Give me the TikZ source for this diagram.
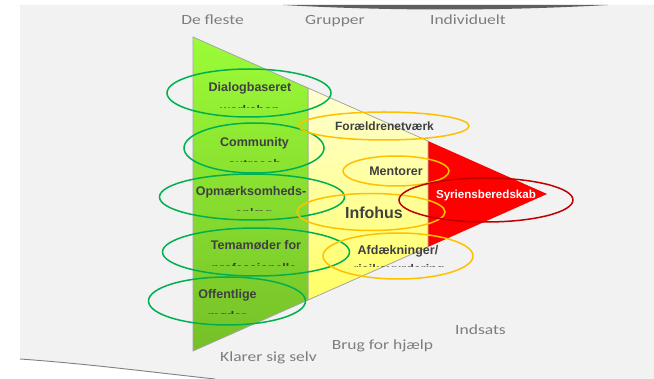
\documentclass[tikz,border=0pt]{standalone}
\usepackage{fontspec}
\setmainfont{Liberation Sans}
\newfontfamily\hdrfont[FakeStretch=1.25]{Carlito}
\usetikzlibrary{shapes.geometric}
\definecolor{bggray}{RGB}{242,242,242}
\definecolor{bandgray}{RGB}{95,95,95}
\definecolor{linegray}{RGB}{128,128,128}
\definecolor{edgegray}{RGB}{165,165,165}
\definecolor{greentop}{RGB}{155,252,55}
\definecolor{greenbot}{RGB}{117,192,40}
\definecolor{yeltop}{RGB}{255,255,210}
\definecolor{yelbot}{RGB}{255,255,100}
\definecolor{redfill}{RGB}{255,0,0}
\definecolor{ellgreen}{RGB}{0,176,80}
\definecolor{ellyellow}{RGB}{255,192,0}
\definecolor{ellred}{RGB}{192,0,0}
\definecolor{labeltxt}{RGB}{64,64,64}
\definecolor{hdrtxt}{RGB}{125,125,125}
\begin{document}
\begin{tikzpicture}[x=1pt,y=-1pt,
  ring/.style={ellipse, draw, line width=1.5pt, inner sep=0pt, outer sep=0pt},
  gring/.style={ring, draw=ellgreen},
  yring/.style={ring, draw=ellyellow},
  rring/.style={ring, draw=ellred},
  lbl/.style={anchor=base, inner sep=0pt, text=labeltxt, font=\fontsize{12.5}{15}\selectfont\bfseries},
  hdr/.style={anchor=base, inner sep=0pt, text=hdrtxt, font=\hdrfont\fontsize{14}{16}\selectfont},
]
\useasboundingbox (0,0) rectangle (654,379);
\fill[white] (0,0) rectangle (654,379);
\fill[bggray] (20,5) -- (654,5) -- (654,379) -- (215,379) .. controls (150,372) and (90,364) .. (20,359) -- cycle;
\draw[linegray, line width=0.9pt] (20,359) .. controls (90,364) and (150,372) .. (215,379);
\fill[bandgray] (283,5) -- (608,5) .. controls (500,11) and (390,11) .. (283,5) -- cycle;

% funnel
\fill[redfill] (428,141) -- (547,194) -- (428,247) -- cycle;
\path[draw=edgegray, line width=0.8pt, top color=yeltop, bottom color=yelbot] (308,88) -- (428,141) -- (428,247) -- (308,300) -- cycle;
\path[draw=edgegray, line width=0.8pt, top color=greentop, bottom color=greenbot] (193,37) -- (308,88) -- (308,300) -- (193,351) -- cycle;

% ellipses
\node[gring, minimum width=164pt, minimum height=48pt] (eDialog) at (249,93) {};
\node[gring, minimum width=140pt, minimum height=50pt] (eCommunity) at (254,148) {};
\node[gring, minimum width=185pt, minimum height=46pt] (eOpm) at (252,197) {};
\node[gring, minimum width=187pt, minimum height=48pt] (eTema) at (256,252) {};
\node[gring, minimum width=157pt, minimum height=48pt] (eOff) at (227,301) {};
\node[yring, minimum width=170pt, minimum height=28pt] (eForaeld) at (384,126) {};
\node[yring, minimum width=106pt, minimum height=30pt] (eMentor) at (396,171) {};
\node[yring, minimum width=148pt, minimum height=37pt] (eInfo) at (371,212) {};
\node[yring, minimum width=150pt, minimum height=46pt] (eAfd) at (398,256) {};
\node[rring, minimum width=174pt, minimum height=44pt] (eSyr) at (486,200) {};

% labels
\node[lbl] (tDialog) at (250,92) {Dialogbaseret};
\begin{scope}\clip (180,102) rectangle (320,107.5); \node[lbl] (tDialogB) at (250,115) {workshop};\end{scope}
\node[lbl] (tCommunity) at (254.5,146.5) {Community};
\begin{scope}\clip (180,155) rectangle (320,161.2); \node[lbl] (tCommunityB) at (254.5,168.5) {outreach};\end{scope}
\node[lbl] (tOpm) at (251,196) {Opmærksomheds-};
\begin{scope}\clip (180,205) rectangle (320,210.8); \node[lbl] (tOpmB) at (253.5,218) {oplæg};\end{scope}
\node[lbl] (tTema) at (256,250) {Temamøder for};
\begin{scope}\clip (180,259) rectangle (320,265.5); \node[lbl] (tTemaB) at (254,273) {professionelle};\end{scope}
\node[lbl] (tOff) at (227.5,299) {Offentlige};
\begin{scope}\clip (180,308) rectangle (320,313.8); \node[lbl] (tOffB) at (227,321) {møder};\end{scope}

\node[lbl, font=\fontsize{12}{14}\selectfont\bfseries] (tForaeld) at (384.5,131) {Forældrenetværk};
\node[lbl] (tMentor) at (396,176) {Mentorer};
\node[lbl, font=\fontsize{16}{18}\selectfont\bfseries] (tInfo) at (374,219) {Infohus};
\node[lbl, text=white, font=\fontsize{11.6}{14}\selectfont\bfseries] (tSyr) at (486,199) {Syriensberedskab};
\node[lbl] (tAfd) at (398,255) {Afdækninger/};
\begin{scope}\clip (330,261) rectangle (470,266.5); \node[lbl] (tAfdB) at (399,274) {risikovurdering};\end{scope}

% headers
\node[hdr] (hFleste) at (212.5,25) {De fleste};
\node[hdr] (hGrupper) at (335,25) {Grupper};
\node[hdr] (hIndivid) at (468,25) {Individuelt};
\node[hdr] (hKlarer) at (268.5,362) {Klarer sig selv};
\node[hdr] (hBrug) at (382.5,350) {Brug for hjælp};
\node[hdr] (hIndsats) at (480.5,334.5) {Indsats};
\end{tikzpicture}
\end{document}
